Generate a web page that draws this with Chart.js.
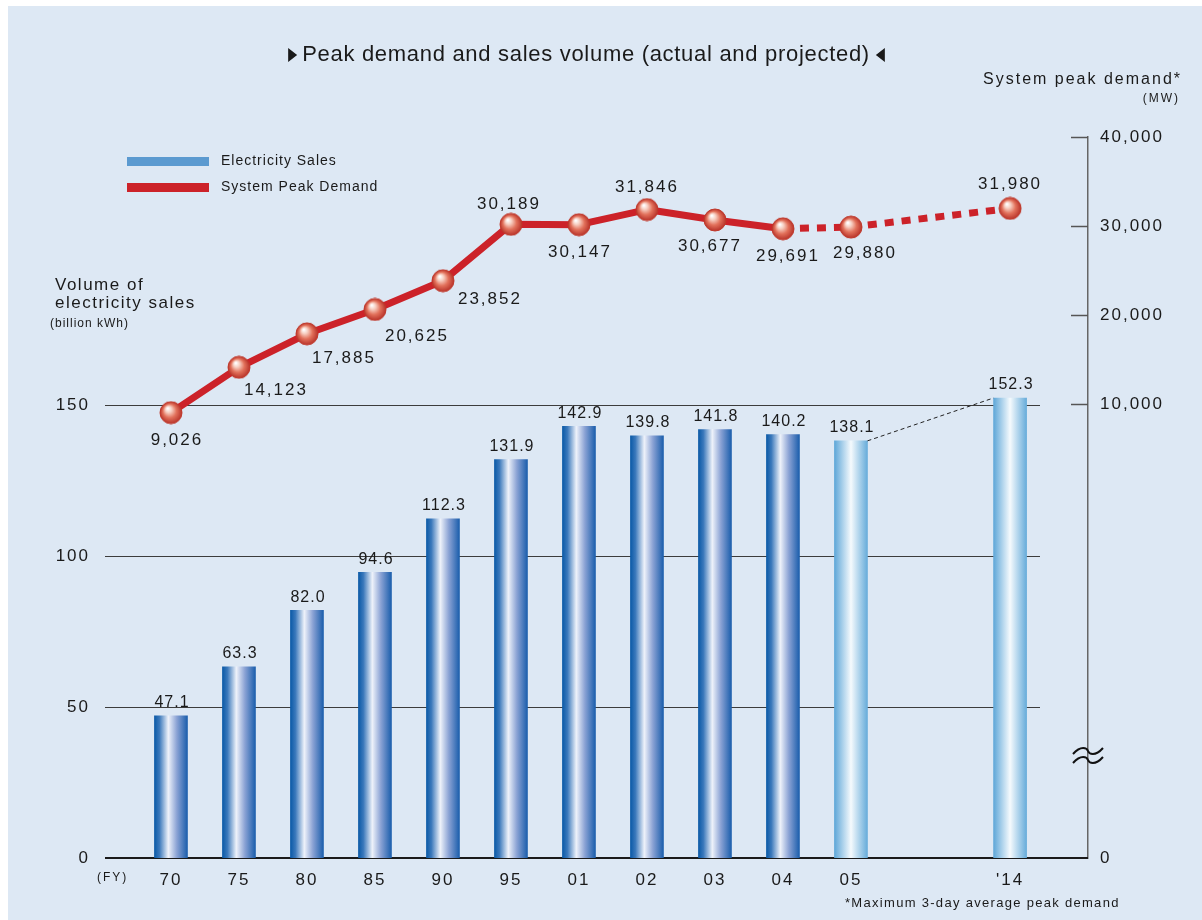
<!DOCTYPE html>
<html lang="en">
<head>
  <meta charset="UTF-8" />
  <title>Peak demand and sales volume</title>
  <script src="https://cdn.jsdelivr.net/npm/chart.js"></script>
  <style>
    body { margin: 0; background: #fff; }
    #wrap { position: absolute; left: 8px; top: 6px; width: 1194px; height: 914px; background: #dde8f4; }
  </style>
</head>
<body>

  <div id="wrap"><canvas id="peakChart" width="1194" height="914"></canvas></div>

  <script>
    // fiscal years along the bottom
    const years = ["70", "75", "80", "85", "90", "95", "01", "02", "03", "04", "05", "'14"];
    // where each year sits on the x axis (there is a gap between 05 and 14)
    const slots = [0, 1, 2, 3, 4, 5, 6, 7, 8, 9, 10, 12.34];
    // volume of electricity sales, billion kWh
    const salesVolume = [47.1, 63.3, 82.0, 94.6, 112.3, 131.9, 142.9, 139.8, 141.8, 140.2, 138.1, 152.3];
    // system peak demand, MW
    const peakDemand = [9026, 14123, 17885, 20625, 23852, 30189, 30147, 31846, 30677, 29691, 29880, 31980];
    // FY05 and later are projections
    const firstProjected = 10;

    const salesTicks = [0, 50, 100, 150];
    const peakTicks = [10000, 20000, 30000, 40000];

    const FONT = '"Liberation Sans", Arial, sans-serif';
    const RED = "#cc2229";

    // the right axis is broken: its bottom end is labelled 0
    const peakAxisFloor = -41011;

    // label placement around the line points (dx, dy in px)
    const peakLabelOffset = [
      [6, 28], [37, 23], [37, 24], [42, 27], [47, 19], [-2, -20],
      [1, 28], [0, -22], [-5, 26], [5, 28], [14, 26], [0, -24]
    ];

    function makeBall(r) {
      const c = document.createElement("canvas");
      c.width = c.height = r * 2 + 2;
      const g = c.getContext("2d");
      const m = r + 1;
      const grad = g.createRadialGradient(m - r * 0.3, m - r * 0.4, r * 0.05, m, m, r);
      grad.addColorStop(0, "#ffffff");
      grad.addColorStop(0.25, "#f7cfc2");
      grad.addColorStop(0.6, "#e2715b");
      grad.addColorStop(1, "#b8332a");
      g.fillStyle = grad;
      g.beginPath();
      g.arc(m, m, r, 0, Math.PI * 2);
      g.fill();
      g.strokeStyle = "#c0392b";
      g.lineWidth = 1;
      g.stroke();
      return c;
    }

    function barFill(c) {
      const chart = c.chart;
      if (!chart.chartArea || c.dataIndex === undefined) return "#2a6db5";
      const cx = chart.scales.x.getPixelForValue(slots[c.dataIndex]);
      const g = chart.ctx.createLinearGradient(cx - 16.5, 0, cx + 16.5, 0);
      if (c.dataIndex >= firstProjected) {
        g.addColorStop(0, "#5fa7d8");
        g.addColorStop(0.5, "#f5fafd");
        g.addColorStop(1, "#67acda");
      } else {
        g.addColorStop(0, "#0b5aa7");
        g.addColorStop(0.15, "#3a78bb");
        g.addColorStop(0.42, "#eef2fa");
        g.addColorStop(0.68, "#8aa2d4");
        g.addColorStop(1, "#1b5eac");
      }
      return g;
    }

    function text(ctx, str, x, y, size, align, spacing) {
      ctx.font = size + "px " + FONT;
      ctx.textAlign = align;
      ctx.textBaseline = "middle";
      ctx.letterSpacing = spacing + "px";
      ctx.fillText(str, x, y);
    }

    function line(ctx, x1, y1, x2, y2) {
      ctx.beginPath();
      ctx.moveTo(x1, y1);
      ctx.lineTo(x2, y2);
      ctx.stroke();
    }

    const decor = {
      id: "decor",
      beforeDraw(chart) {
        chart.ctx.letterSpacing = "2px";
      },
      beforeDatasetsDraw(chart) {
        const { ctx, chartArea: a, scales: { y, y2 } } = chart;
        ctx.save();

        // gridlines for the sales axis
        ctx.strokeStyle = "#3c3c3c";
        ctx.lineWidth = 1;
        salesTicks.slice(1).forEach(v => {
          const py = Math.round(y.getPixelForValue(v)) + 0.5;
          line(ctx, a.left, py, a.right - 48, py);
        });

        // right axis tick marks point inward
        ctx.strokeStyle = "#555";
        ctx.lineWidth = 1.5;
        peakTicks.forEach(v => {
          const py = Math.round(y2.getPixelForValue(v)) + 0.5;
          line(ctx, a.right - 17, py, a.right, py);
        });

        // axis break sign
        ctx.strokeStyle = "#111";
        ctx.lineWidth = 2;
        [745, 754].forEach(py => {
          ctx.beginPath();
          ctx.moveTo(a.right - 15, py + 3);
          ctx.bezierCurveTo(a.right - 7, py - 6, a.right - 1, py - 3, a.right, py);
          ctx.bezierCurveTo(a.right + 1, py + 3, a.right + 7, py + 6, a.right + 15, py - 3);
          ctx.stroke();
        });

        // baseline
        ctx.strokeStyle = "#1a1a1a";
        ctx.lineWidth = 2;
        const by = y.getPixelForValue(0);
        line(ctx, a.left, by, a.right, by);
        ctx.restore();
      },
      afterDatasetsDraw(chart) {
        const { ctx } = chart;
        const bars = chart.getDatasetMeta(0).data;
        const pts = chart.getDatasetMeta(1).data;
        ctx.save();
        ctx.fillStyle = "#1a1a1a";

        // dashed link between the two projected bars
        const b0 = bars[firstProjected];
        const b1 = bars[bars.length - 1];
        ctx.strokeStyle = "#222";
        ctx.lineWidth = 1;
        ctx.setLineDash([4, 3]);
        line(ctx, b0.x + b0.width / 2, b0.y, b1.x - b1.width / 2, b1.y);
        ctx.setLineDash([]);

        bars.forEach((b, i) => {
          text(ctx, salesVolume[i].toFixed(1), b.x + 1, b.y - 13, 16, "center", 1);
        });
        pts.forEach((p, i) => {
          const [dx, dy] = peakLabelOffset[i];
          text(ctx, peakDemand[i].toLocaleString("en-US"), p.x + dx, p.y + dy, 17, "center", 2);
        });

        // title with the two small arrows
        ctx.font = "22px " + FONT;
        ctx.letterSpacing = "0.7px";
        const title = "Peak demand and sales volume (actual and projected)";
        const tw = ctx.measureText(title).width;
        const tx = 578;
        text(ctx, title, tx, 49, 22, "center", 0.7);
        ctx.beginPath();
        ctx.moveTo(tx - tw / 2 - 14, 42);
        ctx.lineTo(tx - tw / 2 - 5, 49);
        ctx.lineTo(tx - tw / 2 - 14, 56);
        ctx.closePath();
        ctx.moveTo(tx + tw / 2 + 15, 42);
        ctx.lineTo(tx + tw / 2 + 6, 49);
        ctx.lineTo(tx + tw / 2 + 15, 56);
        ctx.closePath();
        ctx.fill();

        // legend
        ctx.fillStyle = "#5b9ad0";
        ctx.fillRect(119, 151, 82, 9);
        ctx.fillStyle = RED;
        ctx.fillRect(119, 177, 82, 9);
        ctx.fillStyle = "#1a1a1a";
        text(ctx, "Electricity Sales", 213, 155, 14, "left", 1);
        text(ctx, "System Peak Demand", 213, 181, 14, "left", 1);

        // axis titles and notes
        text(ctx, "Volume of", 47, 279, 17, "left", 1.5);
        text(ctx, "electricity sales", 47, 297, 17, "left", 1.5);
        text(ctx, "(billion kWh)", 42, 318, 12, "left", 1);
        text(ctx, "System peak demand*", 1174, 74, 16, "right", 2);
        text(ctx, "(MW)", 1172, 93, 12, "right", 2);
        text(ctx, "(FY)", 89, 872, 12, "left", 2);
        text(ctx, "*Maximum 3-day average peak demand", 837, 897, 13, "left", 1.3);
        ctx.restore();
      }
    };

    new Chart(document.getElementById("peakChart"), {
      type: "bar",
      data: {
        datasets: [
          {
            type: "bar",
            label: "Electricity Sales",
            data: slots.map((s, i) => ({ x: s, y: salesVolume[i] })),
            backgroundColor: barFill,
            borderWidth: 0,
            barThickness: 33,
            yAxisID: "y",
            order: 1
          },
          {
            type: "line",
            label: "System Peak Demand",
            data: slots.map((s, i) => ({ x: s, y: peakDemand[i] })),
            borderColor: RED,
            borderWidth: 7,
            borderJoinStyle: "round",
            pointStyle: makeBall(11),
            pointRadius: 11,
            segment: {
              borderDash: c => (c.p0DataIndex >= firstProjected - 1 ? [9, 8] : undefined)
            },
            clip: false,
            yAxisID: "y2",
            order: 0
          }
        ]
      },
      options: {
        responsive: false,
        devicePixelRatio: 1,
        animation: false,
        layout: { padding: { top: 131, left: 0, right: 0, bottom: 0 } },
        plugins: {
          legend: { display: false },
          tooltip: { enabled: false }
        },
        scales: {
          x: {
            type: "linear",
            offset: false,
            min: -0.97,
            max: 13.486,
            grid: { display: false, drawTicks: false },
            border: { display: false },
            afterBuildTicks: axis => { axis.ticks = slots.map(v => ({ value: v })); },
            afterFit: axis => { axis.height = 62; },
            ticks: {
              autoSkip: false,
              maxRotation: 0,
              padding: 12,
              color: "#1a1a1a",
              font: { family: FONT, size: 17 },
              callback: (v, i) => years[i]
            }
          },
          y: {
            position: "left",
            min: 0,
            max: 238.7,
            grid: { display: false, drawTicks: false },
            border: { display: false },
            afterBuildTicks: axis => { axis.ticks = salesTicks.map(v => ({ value: v })); },
            afterFit: axis => { axis.width = 97; },
            ticks: {
              padding: 15,
              color: "#1a1a1a",
              font: { family: FONT, size: 17 }
            }
          },
          y2: {
            position: "right",
            min: peakAxisFloor,
            max: 40000,
            grid: { display: false, drawTicks: false },
            border: { display: true, color: "#666", width: 1.5 },
            afterBuildTicks: axis => {
              axis.ticks = [peakAxisFloor, ...peakTicks].map(v => ({ value: v }));
            },
            afterFit: axis => { axis.width = 114; },
            ticks: {
              padding: 12,
              color: "#1a1a1a",
              font: { family: FONT, size: 17 },
              callback: v => (v < 0 ? "0" : v.toLocaleString("en-US"))
            }
          }
        }
      },
      plugins: [decor]
    });
  </script>

</body>
</html>
